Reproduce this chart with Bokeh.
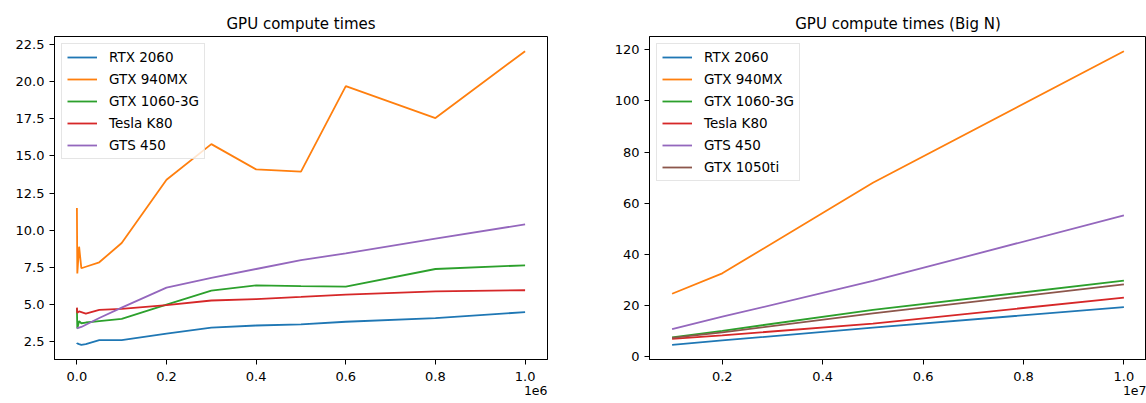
from bokeh.plotting import figure
from bokeh.layouts import row
from bokeh.models import Range1d, FixedTicker, CustomJSTickFormatter, Title
from bokeh.embed import file_html
from bokeh.resources import INLINE

FONT = "DejaVu Sans"
COLORS = ["#1f77b4", "#ff7f0e", "#2ca02c", "#d62728", "#9467bd", "#8c564b"]

# ---------------- Left chart: GPU compute times ----------------
left_title = "GPU compute times"
left_names = ["RTX 2060", "GTX 940MX", "GTX 1060-3G", "Tesla K80", "GTS 450"]
left_n = [100, 1000, 5000, 10000, 20000, 50000, 100000, 200000, 300000,
          400000, 500000, 600000, 800000, 1000000]
rtx2060_left = [2.35, 2.4, 2.35, 2.3, 2.35, 2.62, 2.62, 3.05, 3.45, 3.6, 3.68, 3.85, 4.1, 4.5]
gtx940mx_left = [11.5, 7.1, 8.9, 7.45, 7.55, 7.85, 9.15, 13.4, 15.8, 14.1, 13.95, 19.7, 17.55, 22.05]
gtx1060_left = [4.75, 3.4, 3.9, 3.75, 3.8, 3.9, 4.05, 5.0, 5.95, 6.3, 6.25, 6.22, 7.4, 7.65]
teslak80_left = [4.8, 4.45, 4.55, 4.5, 4.4, 4.65, 4.72, 4.97, 5.28, 5.38, 5.52, 5.67, 5.9, 5.97]
gts450_left = [3.4, 3.42, 3.45, 3.5, 3.65, 4.1, 4.8, 6.15, 6.8, 7.4, 8.0, 8.45, 9.45, 10.4]
left_series = [rtx2060_left, gtx940mx_left, gtx1060_left, teslak80_left, gts450_left]
left_xticks = [0, 200000, 400000, 600000, 800000, 1000000]
left_yticks = [2.5, 5.0, 7.5, 10.0, 12.5, 15.0, 17.5, 20.0, 22.5]
left_offset = "1e6"

# ---------------- Right chart: GPU compute times (Big N) ----------------
right_title = "GPU compute times (Big N)"
right_names = ["RTX 2060", "GTX 940MX", "GTX 1060-3G", "Tesla K80", "GTS 450", "GTX 1050ti"]
right_n = [1000000, 2000000, 5000000, 10000000]
rtx2060_right = [4.5, 6.2, 11.2, 19.3]
gtx940mx_right = [24.5, 32.5, 68.0, 119.5]
gtx1060_right = [7.4, 10.0, 18.2, 29.6]
teslak80_right = [6.8, 8.2, 12.8, 23.0]
gts450_right = [10.6, 15.5, 29.5, 55.2]
gtx1050ti_right = [7.2, 9.4, 16.8, 28.2]
right_series = [rtx2060_right, gtx940mx_right, gtx1060_right, teslak80_right,
                gts450_right, gtx1050ti_right]
right_xticks = [2000000, 4000000, 6000000, 8000000, 10000000]
right_yticks = [0, 20, 40, 60, 80, 100, 120]
right_offset = "1e7"

HEIGHT = 403
TICK_FS = "13px"
LEGEND_FS = "13.5px"


def padded(values, frac=0.05):
    lo, hi = min(values), max(values)
    pad = (hi - lo) * frac
    return lo - pad, hi + pad


def make_plot(title, names, xs, series, xticks, yticks, xscale, yfmt, offset,
              width, bl, br):
    all_y = [v for s in series for v in s]
    x0, x1 = padded(xs)
    y0, y1 = padded(all_y)
    p = figure(width=width, height=HEIGHT, output_backend="svg", toolbar_location=None,
               x_range=Range1d(x0, x1), y_range=Range1d(y0, y1),
               min_border_left=bl, min_border_right=br, min_border_top=36,
               min_border_bottom=44, title=title)
    p.title.text_font = FONT
    p.title.text_font_size = "15px"
    p.title.text_font_style = "normal"
    p.title.align = "center"
    p.title.standoff = 7
    p.title.text_color = "black"
    p.grid.visible = False
    p.outline_line_color = "black"
    p.outline_line_width = 1
    p.background_fill_color = "white"
    p.border_fill_color = "white"
    for ax in (p.xaxis[0], p.yaxis[0]):
        ax.axis_line_color = "black"
        ax.major_tick_line_color = "black"
        ax.major_tick_out = 5
        ax.major_tick_in = 0
        ax.minor_tick_line_color = None
        ax.major_label_text_font = FONT
        ax.major_label_text_font_size = TICK_FS
        ax.major_label_text_color = "black"
        ax.major_label_standoff = 5
    p.xaxis.major_label_standoff = 7
    p.xaxis.ticker = FixedTicker(ticks=xticks)
    p.xaxis.formatter = CustomJSTickFormatter(code="return (tick/%s).toFixed(1)" % xscale)
    p.yaxis.ticker = FixedTicker(ticks=yticks)
    p.yaxis.formatter = CustomJSTickFormatter(code=yfmt)

    for name, ys, c in zip(names, series, COLORS):
        p.line(xs, ys, line_color=c, line_width=1.8, legend_label=name)

    lg = p.legend[0]
    lg.location = "top_left"
    lg.margin = 7
    lg.padding = 5
    lg.spacing = 6
    lg.glyph_width = 30
    lg.glyph_height = 16
    lg.label_height = 16
    lg.label_standoff = 12
    lg.label_text_font = FONT
    lg.label_text_font_size = LEGEND_FS
    lg.label_text_color = "black"
    lg.border_line_color = "#cccccc"
    lg.border_line_width = 1
    lg.background_fill_alpha = 0.8

    # offset text ("1e6"/"1e7") below the right end of the x axis
    off = Title(text=offset, align="right", text_font=FONT, text_font_size="12.5px",
                text_font_style="normal", text_color="black", standoff=0)
    p.add_layout(off, "below")
    return p


p1 = make_plot(left_title, left_names, left_n, left_series, left_xticks, left_yticks,
               "1e6", "return tick.toFixed(1)", left_offset, 598, 54, 51)
p2 = make_plot(right_title, right_names, right_n, right_series, right_xticks, right_yticks,
               "1e7", "return tick.toFixed(0)", right_offset, 548, 51, 0)

layout = row(p1, p2)
open("out.html", "w").write(file_html(layout, INLINE))
